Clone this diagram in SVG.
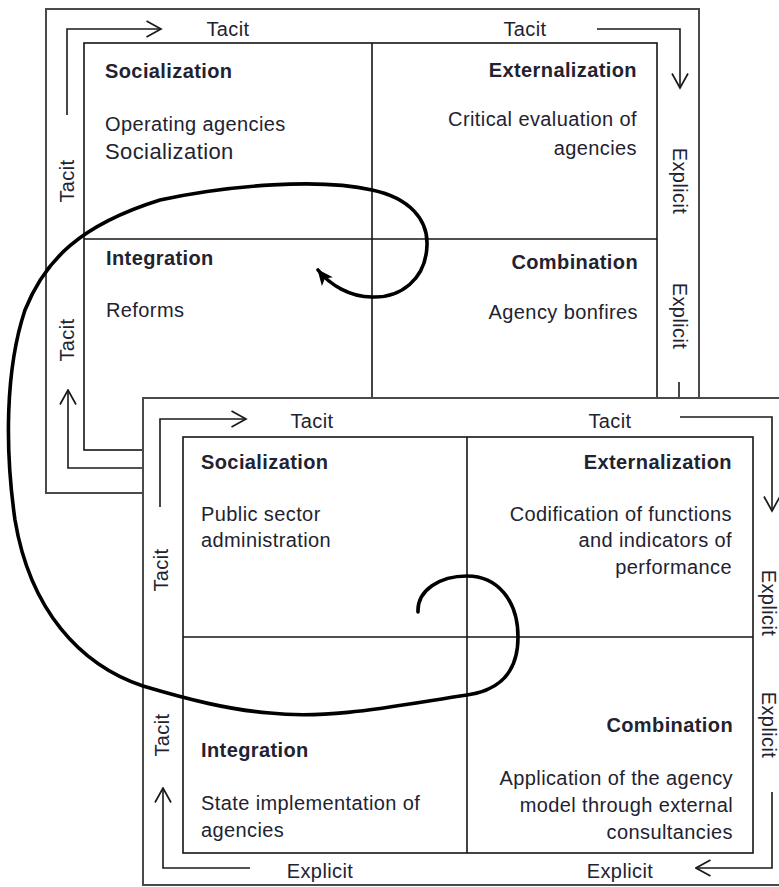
<svg xmlns="http://www.w3.org/2000/svg" width="779" height="887" viewBox="0 0 779 887">
  <style>
    .frame { fill: #fff; stroke: #4a4a4a; stroke-width: 2; }
    .grid { fill: none; stroke: #151515; stroke-width: 1.6; }
    .axis { fill: none; stroke: #1a1a1a; stroke-width: 1.6; }
    .flow { fill: none; stroke: #000; stroke-width: 3.6; stroke-linecap: round; }
    text { font-family: "Liberation Sans", Arial, sans-serif; font-size: 20px; fill: #222230; letter-spacing: 0.4px; }
    .head { font-weight: bold; }
    .big { font-size: 22px; }
    .end { text-anchor: end; }
    .mid { text-anchor: middle; }
  </style>
  <defs>
    <marker id="chev" markerUnits="userSpaceOnUse" markerWidth="17" markerHeight="19" viewBox="0 0 17 19" refX="15.5" refY="9.5" orient="auto">
      <path d="M1,1.5 L15.5,9.5 L1,17.5" fill="none" stroke="#1a1a1a" stroke-width="1.7"/>
    </marker>
    <marker id="head" markerUnits="userSpaceOnUse" markerWidth="18" markerHeight="16" viewBox="0 0 18 16" refX="15" refY="8" orient="auto">
      <path d="M0,1 L16,8 L0,15 L4,8 Z" fill="#000"/>
    </marker>
  </defs>

  <!-- Upper SECI matrix -->
  <g id="upper-matrix">
    <rect class="frame" x="46" y="9" width="653" height="484"/>
    <rect class="grid" x="84" y="43" width="573" height="407"/>
    <line class="grid" x1="84" y1="239" x2="657" y2="239"/>
    <line class="grid" x1="372" y1="43" x2="372" y2="450"/>
    <g id="upper-axes">
      <path class="axis" d="M67,115 V29 H161" marker-end="url(#chev)"/>
      <path class="axis" d="M597,29 H680 V88" marker-end="url(#chev)"/>
      <path class="axis" d="M679,382 V398"/>
      <path class="axis" d="M143,468 H68 V390" marker-end="url(#chev)"/>
      <text class="mid" x="228" y="36">Tacit</text>
      <text class="mid" x="525" y="36">Tacit</text>
      <text class="mid" transform="translate(74,181) rotate(-90)">Tacit</text>
      <text class="mid" transform="translate(74,340) rotate(-90)">Tacit</text>
      <text class="mid" transform="translate(673,181) rotate(90)">Explicit</text>
      <text class="mid" transform="translate(673,316) rotate(90)">Explicit</text>
    </g>
    <g id="upper-socialization">
      <text class="head" x="105" y="78">Socialization</text>
      <text x="105" y="131">Operating agencies</text>
      <text class="big" x="105" y="159">Socialization</text>
    </g>
    <g id="upper-externalization">
      <text class="head end" x="637" y="77">Externalization</text>
      <text class="end" x="637" y="126">Critical evaluation of</text>
      <text class="end" x="637" y="155">agencies</text>
    </g>
    <g id="upper-integration">
      <text class="head" x="106" y="265">Integration</text>
      <text x="106" y="317">Reforms</text>
    </g>
    <g id="upper-combination">
      <text class="head end" x="638" y="269">Combination</text>
      <text class="end" x="638" y="319">Agency bonfires</text>
    </g>
  </g>

  <!-- Lower SECI matrix -->
  <g id="lower-matrix">
    <rect class="frame" x="143" y="398" width="650" height="487"/>
    <rect class="grid" x="183" y="437" width="570" height="416"/>
    <line class="grid" x1="183" y1="637" x2="753" y2="637"/>
    <line class="grid" x1="467" y1="437" x2="467" y2="853"/>
    <g id="lower-axes">
      <path class="axis" d="M160,507 V419 H246" marker-end="url(#chev)"/>
      <path class="axis" d="M680,417 H772 V511" marker-end="url(#chev)"/>
      <path class="axis" d="M772,792 V868 H696" marker-end="url(#chev)"/>
      <path class="axis" d="M250,868 H163 V788" marker-end="url(#chev)"/>
      <text class="mid" x="312" y="428">Tacit</text>
      <text class="mid" x="610" y="428">Tacit</text>
      <text class="mid" x="320" y="878">Explicit</text>
      <text class="mid" x="620" y="878">Explicit</text>
      <text class="mid" transform="translate(168,570) rotate(-90)">Tacit</text>
      <text class="mid" transform="translate(169,735) rotate(-90)">Tacit</text>
      <text class="mid" transform="translate(762,603) rotate(90)">Explicit</text>
      <text class="mid" transform="translate(762,725) rotate(90)">Explicit</text>
    </g>
    <g id="lower-socialization">
      <text class="head" x="201" y="469">Socialization</text>
      <text x="201" y="521">Public sector</text>
      <text x="201" y="547">administration</text>
    </g>
    <g id="lower-externalization">
      <text class="head end" x="732" y="469">Externalization</text>
      <text class="end" x="732" y="521">Codification of functions</text>
      <text class="end" x="732" y="547">and indicators of</text>
      <text class="end" x="732" y="574">performance</text>
    </g>
    <g id="lower-integration">
      <text class="head" x="201" y="757">Integration</text>
      <text x="201" y="810">State implementation of</text>
      <text x="201" y="837">agencies</text>
    </g>
    <g id="lower-combination">
      <text class="head end" x="733" y="732">Combination</text>
      <text class="end" x="733" y="785">Application of the agency</text>
      <text class="end" x="733" y="812">model through external</text>
      <text class="end" x="733" y="839">consultancies</text>
    </g>
  </g>

  <!-- Knowledge spiral linking the two matrices -->
  <g id="connectors">
    <path class="flow" marker-end="url(#head)" d="M418,612 C417,590 440,576 467,576 C497,576 518,600 518,637 C518,680 490,692 467,695 C400,705 330,720 270,713 C230,710 190,700 143,686 C80,665 30,610 15,520 C5,450 5,370 25,310 C45,260 80,225 160,200 C230,185 320,178 372,190 C410,198 428,220 427,245 C426,280 400,298 372,297 C350,297 330,285 318,270"/>
  </g>
</svg>
